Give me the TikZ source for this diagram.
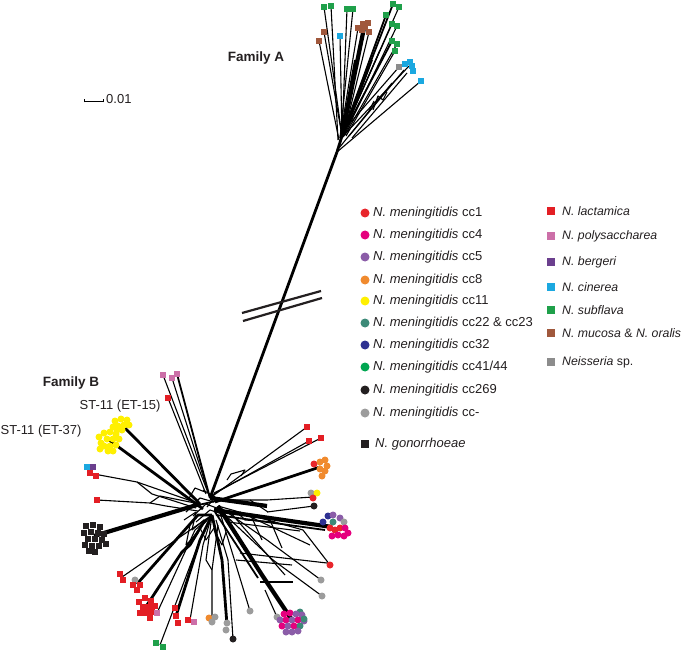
\documentclass[tikz,border=0pt]{standalone}
\usepackage{fontspec}
\setmainfont{Liberation Sans}
\definecolor{cOne}{HTML}{E8262C}
\definecolor{cFour}{HTML}{E5007E}
\definecolor{cFive}{HTML}{8B5DA8}
\definecolor{cEight}{HTML}{F08A2E}
\definecolor{cEleven}{HTML}{FFF000}
\definecolor{cTT}{HTML}{3D8A78}
\definecolor{cTwo}{HTML}{2E3192}
\definecolor{cFortyOne}{HTML}{00A651}
\definecolor{cBlack}{HTML}{231F20}
\definecolor{cGrey}{HTML}{9C9C9C}
\definecolor{sLac}{HTML}{E31E24}
\definecolor{sPoly}{HTML}{CC6FA8}
\definecolor{sBerg}{HTML}{6B3F8E}
\definecolor{sCin}{HTML}{1BA8E0}
\definecolor{sSub}{HTML}{1FA04A}
\definecolor{sMuc}{HTML}{A0583C}
\definecolor{sSp}{HTML}{8C8C8C}
\begin{document}
\begin{tikzpicture}[x=1pt,y=-1pt,
  txt/.style={font=\fontsize{13}{15}\selectfont, text=cBlack, inner sep=0pt},
  rtxt/.style={font=\fontsize{12.3}{14}\selectfont, text=cBlack, inner sep=0pt},
  btxt/.style={font=\fontsize{13.5}{15}\selectfont\bfseries, text=cBlack, inner sep=0pt},
  circ/.style={circle, inner sep=0pt, minimum size=7pt, fill=#1, draw=none},
  sq/.style={rectangle, inner sep=0pt, minimum size=6.8pt, fill=#1, draw=none},
  lcirc/.style={circle, inner sep=0pt, minimum size=9pt, fill=#1, draw=none},
  lsq/.style={rectangle, inner sep=0pt, minimum size=8.5pt, fill=#1, draw=none},
  thn/.style={draw=black, line width=1.1pt},
  med/.style={draw=black, line width=1.8pt},
  thk/.style={draw=black, line width=2.8pt},
  vthk/.style={draw=black, line width=4.2pt},
  line join=round]
\useasboundingbox (0,0) rectangle (686,650);

% ---------- hubs ----------
\coordinate (hB) at (210,498);
\coordinate (hL) at (200,504);
\coordinate (hR) at (218,506);
\coordinate (hD) at (212,515);
\coordinate (tTop) at (337,152);
\coordinate (hA) at (342,136);

% ---------- Family A tip coordinates ----------
\coordinate (a1) at (324,7);   \coordinate (a2) at (331,6);
\coordinate (a3) at (347,9);   \coordinate (a4) at (353,9);
\coordinate (a5) at (393,4);   \coordinate (a6) at (399,7);
\coordinate (a7) at (386,15);  \coordinate (a8) at (392,24);
\coordinate (a9) at (397,26);  \coordinate (a10) at (392,41);
\coordinate (a11) at (397,44); \coordinate (a12) at (395,51);
\coordinate (b1) at (324,32);  \coordinate (b2) at (319,41);
\coordinate (bc) at (364,28);  \coordinate (c1) at (340,36);
\coordinate (g1) at (399,67);  \coordinate (cc) at (409,66);
\coordinate (c6) at (421,81);

% trunk
\draw[thk] (hB) -- (tTop);
\draw[thk] (tTop) -- (hA);
% Family A fan
\draw[thn] (hA) -- (a1);
\draw[thn] (338,140) -- (a2);
\draw[thn] (hA) -- (a3);
\draw[thn] (340,138) -- (a4);
\draw[med] (hA) -- (a5);
\draw[thn] (343,134) -- (a6);
\draw[med] (hA) -- (a7);
\draw[thn] (hA) -- (a8);
\draw[thn] (344,136) -- (a9);
\draw[med] (hA) -- (a10);
\draw[thn] (345,135) -- (a11);
\draw[thn] (346,136) -- (a12);
\draw[thn] (hA) -- (b1);
\draw[thn] (339,140) -- (b2);
\draw[thn] (hA) -- (c1);
\draw[vthk] (hA) -- (bc);
\draw[thn] (340,138) -- (358,28);
\draw[thn] (344,134) -- (369,32);
\draw[med] (341,137) -- (355,60);
\draw[med] (343,137) -- (372,60);
\draw[thn] (hA) -- (380,50);
% cyan network
\draw[thn] (344,130) -- (g1);
\draw[thn] (346,133) -- (cc);
\draw[thn] (349,136) -- (404,70);
\draw[thn] (352,138) -- (407,73);
\draw[thn] (373,110) -- (378,96) -- (383,100) -- (387,92);
\draw[thn] (368,113) -- (374,101);
\draw[thn] (tTop) -- (c6);
\draw[thn] (339,148) -- (392,83);

% ---------- Family B tip coordinates ----------
\coordinate (p1) at (163,375); \coordinate (p2) at (172,378);
\coordinate (p3) at (177,374); \coordinate (r1) at (168,398);
\coordinate (y15) at (121,424); \coordinate (y37) at (109,440);
\coordinate (m1) at (94,474);  \coordinate (r2) at (97,500);
\coordinate (gon) at (94,536);
\coordinate (r3) at (122,577); \coordinate (gr1) at (137,584);
\coordinate (rc) at (147,605); \coordinate (p4) at (157,613);
\coordinate (r4) at (176,616); \coordinate (r5) at (190,620);
\coordinate (gg) at (160,645); \coordinate (o1) at (212,619);
\coordinate (gr3) at (227,625); \coordinate (bk1) at (233,639);
\coordinate (gr4) at (250,611); \coordinate (gr5) at (277,617);
\coordinate (pc) at (292,620);
\coordinate (r6) at (330,565); \coordinate (gr6) at (321,580);
\coordinate (gr7) at (322,596);
\coordinate (r7) at (307,427); \coordinate (r8) at (309,441);
\coordinate (r9) at (321,438); \coordinate (oc) at (320,467);
\coordinate (mx) at (313,497); \coordinate (bk2) at (314,506);
\coordinate (mc) at (332,527);

% upper-left branches
\draw[thn] (hB) -- (p1);
\draw[thn] (hB) -- (p2);
\draw[med] (hB) -- (p3);
\draw[thn] (206,494) -- (r1);
\draw[thk] (hL) -- (y15);
\draw[thk] (203,509) -- (y37);
\draw[thn] (m1) -- (137,482) -- (hL);
\draw[thn] (137,482) -- (152,494) -- (196,508);
\draw[thn] (r2) -- (150,503) -- (160,496) -- (hL);
\draw[thn] (150,503) -- (166,506) -- (198,511);
\draw[vthk] (gon) -- (hL);
% central tangle
\draw[thn] (188,500) -- (195,488) -- (205,492);
\draw[thn] (186,512) -- (200,498) -- (214,502);
\draw[med] (190,507) -- (220,500);
\draw[thn] (193,516) -- (206,504) -- (222,510);
\draw[thn] (196,522) -- (210,510) -- (225,515);
\draw[thn] (203,490) -- (215,497) -- (207,507);
\draw[thn] (184,520) -- (196,512) -- (192,530) -- (204,520);
\draw[thn] (180,535) -- (190,525) -- (186,545) -- (198,533);
\draw[thn] (200,528) -- (206,540) -- (214,528);
\draw[thn] (214,530) -- (222,545) -- (226,532);
% lower-left branches
\draw[thn] (r3) -- (hD);
\draw[thk] (gr1) -- (198,515) -- (hD);
\draw[thk] (rc) -- (182,552) -- (190,545) -- (205,520);
\draw[thn] (182,552) -- (200,528) -- (hD);
\draw[thn] (p4) -- (195,530) -- (hD);
\draw[thk] (r4) -- (200,540) -- (hD);
\draw[thn] (r5) -- (203,545) -- (hD);
\draw[thn] (gg) -- (198,545) -- (hD);
\draw[thn] (o1) -- (212,570) -- (206,560) -- (hD);
\draw[thn] (212,570) -- (218,525);
\draw[thk] (gr3) -- (222,560) -- (hD);
\draw[thn] (bk1) -- (228,560) -- (216,520);
\draw[thn] (gr4) -- (hR);
\draw[vthk] (hR) -- (262,575) -- (pc);
\draw[med] (215,512) -- (258,578);
\draw[thn] (265,590) -- (gr5);
% lower-right network
\draw[thn] (hR) -- (303,530) -- (r6);
\draw[thn] (hR) -- (267,540) -- (gr6);
\draw[thn] (222,512) -- (273,560) -- (gr7);
\draw[thn] (228,522) -- (300,531);
\draw[thn] (240,553) -- (327,563);
\draw[thn] (236,560) -- (292,565);
\draw[thn] (260,582) -- (293,582);
\draw[thn] (230,512) -- (285,575);
\draw[thn] (240,512) -- (310,545);
\draw[thn] (252,518) -- (262,540);
\draw[thn] (270,520) -- (282,548);
% upper-right branches
\draw[thn] (hB) -- (r7);
\draw[thn] (214,493) -- (r9);
\draw[thn] (212,495) -- (r8);
\draw[thn] (227,480) -- (231,474) -- (245,470) -- (241,476);
\draw[thk] (215,502) -- (oc);
\draw[vthk] (hB) -- (267,506);
\draw[thn] (215,500) -- (267,500) -- (mx);
\draw[thn] (267,512) -- (bk2);
\draw[thn] (250,500) -- (268,512);
\draw[vthk] (214,510) -- (mc);
\draw[med] (216,515) -- (325,530);
\draw[thn] (240,515) -- (245,520) -- (275,522);

% ---------- markers: Family A ----------
\foreach \n in {a1,a2,a3,a4,a5,a6,a7,a8,a9,a10,a11,a12}
  \node[sq=sSub] (m-\n) at (\n) {};
\node[sq=sMuc] (m-b1) at (b1) {};
\node[sq=sMuc] (m-b2) at (b2) {};
\foreach \dx/\dy [count=\i] in {-6/0,-1/-4,4/-5,-2/2,5/4,1/-1}
  \node[sq=sMuc] (bm\i) at ([shift={(\dx,\dy)}]bc) {};
\node[sq=sCin] (m-c1) at (c1) {};
\node[sq=sSp] (m-g1) at (g1) {};
\foreach \dx/\dy [count=\i] in {-4/-2,1/-4,3/0,4/5}
  \node[sq=sCin] (cm\i) at ([shift={(\dx,\dy)}]cc) {};
\node[sq=sCin] (m-c6) at (c6) {};

% ---------- markers: Family B ----------
\node[sq=sPoly] (m-p1) at (p1) {};
\node[sq=sPoly] (m-p2) at (p2) {};
\node[sq=sPoly] (m-p3) at (p3) {};
\node[sq=sLac] (m-r1) at (r1) {};
\foreach \dx/\dy [count=\i] in {-6/-3,0/-5,6/-4,-3/2,3/1,8/1,-8/3,1/6,-4/6}
  \node[circ=cEleven] (ya\i) at ([shift={(\dx,\dy)}]y15) {};
\foreach \dx/\dy [count=\i] in {-10/-3,-5/-7,1/-8,7/-6,-8/3,-2/-1,4/-1,10/-1,-5/6,1/6,7/5,-1/11,4/11,-9/9}
  \node[circ=cEleven] (yb\i) at ([shift={(\dx,\dy)}]y37) {};
\node[sq=sCin] (mc1) at (87,467) {};
\node[sq=sBerg] (mc2) at (93,467) {};
\node[sq=sLac] (mc3) at (90,473) {};
\node[sq=sLac] (mc4) at (96,476) {};
\node[sq=sLac] (m-r2) at (r2) {};
\foreach \dx/\dy [count=\i] in {-8/-10,-1/-11,6/-9,-10/-3,-3/-4,4/-3,10/-2,-6/3,1/3,8/4,-9/9,-2/10,5/10,12/8,1/16,-5/15}
  \node[sq=cBlack] (gk\i) at ([shift={(\dx,\dy)}]gon) {};
\node[sq=sLac] (rr1) at (120,574) {};
\node[sq=sLac] (rr2) at (123,580) {};
\node[circ=cGrey] (rr3) at (135,580) {};
\node[sq=sLac] (rr4) at (133,585) {};
\node[sq=sLac] (rr5) at (140,585) {};
\node[sq=sLac] (rr6) at (137,590) {};
\foreach \dx/\dy [count=\i] in {-8/-3,-2/-7,4/-4,-4/2,2/2,8/1,-1/8,5/7,-7/8,3/13}
  \node[sq=sLac] (rk\i) at ([shift={(\dx,\dy)}]rc) {};
\node[sq=sPoly] (m-p4) at (p4) {};
\node[sq=sLac] (rr7) at (175,608) {};
\node[sq=sLac] (m-r4) at (r4) {};
\node[sq=sLac] (rr8) at (178,623) {};
\node[sq=sLac] (m-r5) at (188,620) {};
\node[sq=sPoly] (pp5) at (194,622) {};
\node[sq=sSub] (m-gg) at (156,643) {};
\node[sq=sSub] (gg2) at (163,647) {};
\node[circ=cEight] (m-o1) at (209,618) {};
\node[circ=cGrey] (og1) at (215,617) {};
\node[circ=cGrey] (og2) at (212,622) {};
\node[circ=cGrey] (m-gr3) at (227,623) {};
\node[circ=cGrey] (gr3b) at (226,630) {};
\node[circ=cBlack] (m-bk1) at (bk1) {};
\node[circ=cGrey] (m-gr4) at (gr4) {};
\node[circ=cGrey] (m-gr5) at (gr5) {};
\node[circ=cTT] (tt1) at (300,612) {};
\foreach \dx/\dy/\c [count=\i] in {-8/-6/cFour,-2/-7/cFour,4/-6/cFive,10/-5/cFive,-12/0/cFive,-6/0/cFour,0/0/cFive,6/0/cFour,12/1/cFive,-10/6/cFour,-4/6/cFive,2/6/cFour,8/6/cTT,-6/12/cFive,0/12/cFive,6/11/cFive,12/-1/cTT}
  \node[circ=\c] (pk\i) at ([shift={(\dx,\dy)}]pc) {};
\node[circ=cOne] (m-r6) at (r6) {};
\node[circ=cGrey] (m-gr6) at (gr6) {};
\node[circ=cGrey] (m-gr7) at (gr7) {};
\node[sq=sLac] (m-r7) at (r7) {};
\node[sq=sLac] (m-r8) at (r8) {};
\node[sq=sLac] (m-r9) at (r9) {};
\node[circ=cOne] (oc0) at (314,464) {};
\foreach \dx/\dy [count=\i] in {0/-5,5/-7,7/-1,0/2,5/4,2/9}
  \node[circ=cEight] (ok\i) at ([shift={(\dx,\dy)}]oc) {};
\node[circ=cGrey] (mx1) at (311,493) {};
\node[circ=cEleven] (mx2) at (317,493) {};
\node[circ=cOne] (m-mx) at (313,498) {};
\node[circ=cBlack] (m-bk2) at (bk2) {};
\foreach \dx/\dy/\c [count=\i] in {-9/-5/cTwo,-4/-11/cTwo,1/-12/cFive,8/-9/cFive,1/-5/cTT,12/-5/cGrey,-2/1/cOne,3/3/cOne,8/1/cOne,13/1/cFour,6/8/cFour,12/9/cFour,0/9/cFour,16/6/cFour}
  \node[circ=\c] (mk\i) at ([shift={(\dx,\dy)}]mc) {};

% ---------- labels ----------
\node[btxt] (famA) at (256,58) {Family A};
\node[btxt] (famB) at (71,383) {Family B};
\node[txt] (st15) at (120,406) {ST-11 (ET-15)};
\node[txt, anchor=west] (st37) at (0.5,431) {ST-11 (ET-37)};
% scale bar
\coordinate (sb1) at (84,101);
\coordinate (sb2) at (103,101);
\draw[line width=0.9pt] (sb1) -- (sb2);
\draw[line width=0.6pt] ([yshift=-1.5]sb1) -- ([yshift=1.5]sb1);
\draw[line width=0.6pt] ([yshift=-1.5]sb2) -- ([yshift=1.5]sb2);
\node[txt, anchor=west] (sbl) at (106,99) {0.01};
% double break
\draw[line width=2.2pt, draw=cBlack] (242,313) -- (321,291);
\draw[line width=2.2pt, draw=cBlack] (243,321) -- (322,298);

% ---------- legend ----------
\foreach \y/\c/\t [count=\i] in {213/cOne/{cc1}, 235/cFour/{cc4}, 257/cFive/{cc5}, 280/cEight/{cc8}, 301/cEleven/{cc11}, 323/cTT/{cc22 \& cc23}, 345/cTwo/{cc32}, 367/cFortyOne/{cc41\slash 44}, 390/cBlack/{cc269}, 413/cGrey/{cc-}}{
  \node[lcirc=\c] (lc\i) at (365,\y) {};
  \node[txt, anchor=west] (lt\i) at (373,\y) {\textit{N. meningitidis} \t};
}
\node[lsq=cBlack] (lg) at (365,444) {};
\node[txt, anchor=west] (lgt) at (375,444) {\textit{N. gonorrhoeae}};
\foreach \y/\c/\t [count=\i] in {211/sLac/{\textit{N. lactamica}}, 236/sPoly/{\textit{N. polysaccharea}}, 262/sBerg/{\textit{N. bergeri}}, 287/sCin/{\textit{N. cinerea}}, 310/sSub/{\textit{N. subflava}}, 333/sMuc/{\textit{N. mucosa} \& \textit{N. oralis}}, 362/sSp/{\textit{Neisseria} sp.}}{
  \node[lsq=\c] (ls\i) at (551,\y) {};
  \node[rtxt, anchor=west] (lst\i) at (562,\y) {\t};
}
\end{tikzpicture}
\end{document}
